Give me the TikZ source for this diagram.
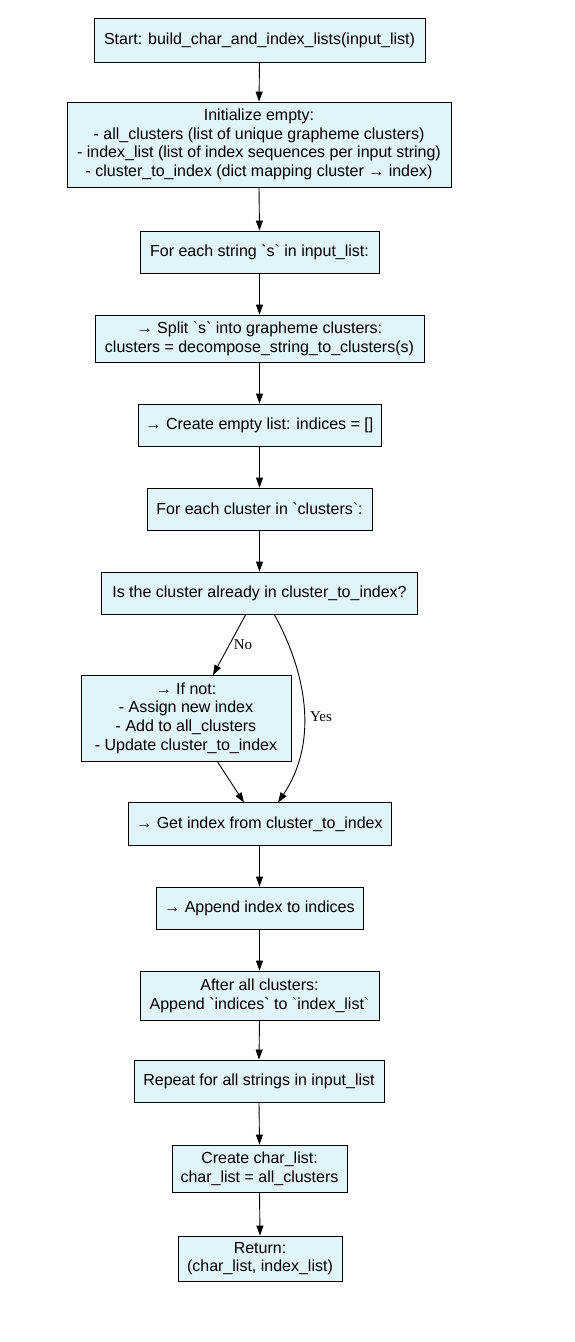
\documentclass[tikz,border=0pt]{standalone}
\usepackage{fontspec}
\setmainfont{Liberation Sans}[Ligatures=TeXOff]
\newfontfamily\labelfont{Liberation Serif}
\usetikzlibrary{arrows.meta}
\definecolor{boxfill}{RGB}{224,244,249}
\tikzset{
  box/.style={draw=black, line width=0.9pt, fill=boxfill, align=center, inner sep=0pt,
    font=\fontsize{16}{18.7}\selectfont},
  conn/.style={draw=black, line width=0.9pt, -{Triangle[length=10pt,width=7pt]}},
  lbl/.style={font=\labelfont\fontsize{15}{16}\selectfont, inner sep=1pt}
}
\begin{document}
\begin{tikzpicture}[x=1pt,y=-1pt]
\useasboundingbox (0,0) rectangle (574,1342);
\node[box, minimum width=331pt, minimum height=44pt] (n1) at (259.5,40) {Start: build\_char\_and\_index\_lists(input\_list)};
\node[box, minimum width=384pt, minimum height=85pt] (n2) at (259,144.5) {Initialize empty:\\- all\_clusters (list of unique grapheme clusters)\\- index\_list (list of index sequences per input string)\\- cluster\_to\_index (dict mapping cluster → index)};
\node[box, minimum width=239pt, minimum height=42pt] (n3) at (259.5,252) {For each string `s` in input\_list:};
\node[box, minimum width=329pt, minimum height=47pt] (n4) at (259.5,338.5) {→ Split `s` into grapheme clusters:\\clusters = decompose\_string\_to\_clusters(s)};
\node[box, minimum width=243pt, minimum height=42pt] (n5) at (259.5,425) {→ Create empty list: indices = []};
\node[box, minimum width=225pt, minimum height=42pt] (n6) at (259.5,509) {For each cluster in `clusters`:};
\node[box, minimum width=316pt, minimum height=42pt] (n7) at (259.5,593) {Is the cluster already in cluster\_to\_index?};
\node[box, minimum width=210pt, minimum height=86pt] (n8) at (186,718) {→ If not:\\- Assign new index\\- Add to all\_clusters\\- Update cluster\_to\_index};
\node[box, minimum width=263pt, minimum height=43pt] (n9) at (259.5,824) {→ Get index from cluster\_to\_index};
\node[box, minimum width=207pt, minimum height=42pt] (n10) at (259.5,908) {→ Append index to indices};
\node[box, minimum width=239pt, minimum height=49pt] (n11) at (259.5,995.5) {After all clusters:\\Append `indices` to `index\_list`};
\node[box, minimum width=250pt, minimum height=42pt] (n12) at (259,1081) {Repeat for all strings in input\_list};
\node[box, minimum width=175pt, minimum height=47pt] (n13) at (259.5,1168.5) {Create char\_list:\\char\_list = all\_clusters};
\node[box, minimum width=164pt, minimum height=45pt] (n14) at (260,1258.5) {Return:\\(char\_list, index\_list)};

\draw[conn] (n1.south) -- (n2.north);
\draw[conn] (n2.south) -- (n3.north);
\draw[conn] (n3.south) -- (n4.north);
\draw[conn] (n4.south) -- (n5.north);
\draw[conn] (n5.south) -- (n6.north);
\draw[conn] (n6.south) -- (n7.north);
\coordinate (noS) at (246,614);
\coordinate (noE) at (213,675);
\draw[conn] (noS) -- (noE);
\node[lbl] (nolbl) at (243,645) {No};
\coordinate (yesS) at (274,614);
\coordinate (yesE) at (278,802.5);
\draw[conn] (yesS) .. controls (305,670) and (320,740) .. (yesE);
\node[lbl] (yeslbl) at (321,717) {Yes};
\coordinate (inS) at (217,761);
\coordinate (inE) at (244,802.5);
\draw[conn] (inS) -- (inE);
\draw[conn] (n9.south) -- (n10.north);
\draw[conn] (n10.south) -- (n11.north);
\draw[conn] (n11.south) -- (n12.north);
\draw[conn] (n12.south) -- (n13.north);
\draw[conn] (n13.south) -- (n14.north);
\end{tikzpicture}
\end{document}
